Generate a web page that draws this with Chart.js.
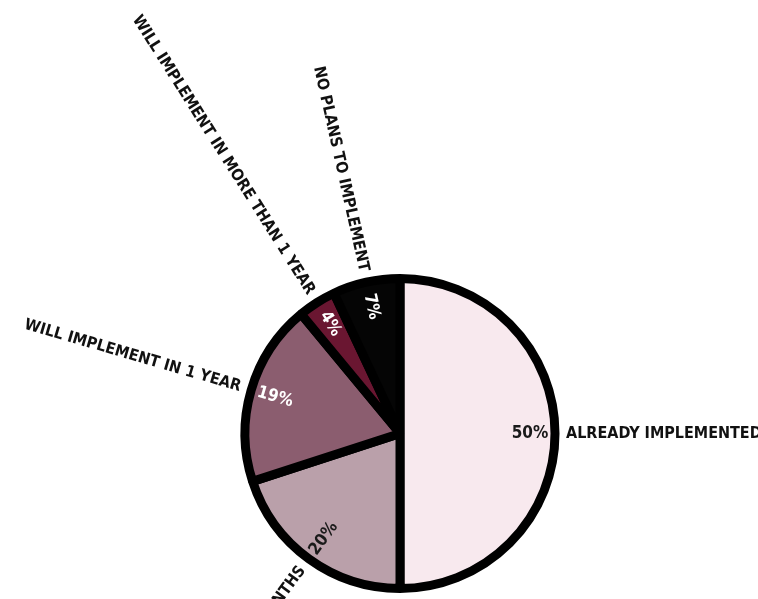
<!DOCTYPE html>
<html>
<head>
<meta charset="utf-8">
<script src="https://cdn.jsdelivr.net/npm/chart.js@4/dist/chart.umd.min.js"></script>
<style>
  html, body { margin: 0; padding: 0; background: #fff; }
  #wrap { width: 758px; height: 599px; }
</style>
</head>
<body>
<div id="wrap"><canvas id="pie" width="758" height="599"></canvas></div>
<script>
'use strict';

// what the survey answered, clockwise from the top
const categories = [
    'ALREADY IMPLEMENTED',
    'WILL IMPLEMENT IN 6 MONTHS',
    'WILL IMPLEMENT IN 1 YEAR',
    'WILL IMPLEMENT IN MORE THAN 1 YEAR',
    'NO PLANS TO IMPLEMENT'
];
const shares = [50, 20, 19, 4, 7];
const shareLabels = ['50%', '20%', '19%', '4%', '7%'];

const sliceColors = ['#f8e9ee', '#baa0aa', '#8b5d6f', '#6a1631', '#050505'];
const inkColors = ['#1a1a1a', '#1a1a1a', '#ffffff', '#ffffff', '#ffffff'];

// rotated labels: percentage inside near the rim, name outside along the radius
const radialLabels = {
    id: 'radialLabels',
    afterDraw(chart) {
        const ctx = chart.ctx;
        const meta = chart.getDatasetMeta(0);
        ctx.save();
        meta.data.forEach((arc, i) => {
            const p = arc.getProps(['x', 'y', 'startAngle', 'endAngle', 'outerRadius'], true);
            const mid = (p.startAngle + p.endAngle) / 2; // canvas angle, 0 = right
            const cos = Math.cos(mid), sin = Math.sin(mid);
            const leftSide = cos < -0.0001;
            const rot = leftSide ? mid + Math.PI : mid;

            // percentage
            let r = p.outerRadius - 25;
            ctx.save();
            ctx.translate(p.x + cos * r, p.y + sin * r);
            ctx.rotate(rot);
            ctx.font = 'bold 17px "DejaVu Sans Condensed", "DejaVu Sans", sans-serif';
            ctx.fillStyle = inkColors[i];
            ctx.textAlign = 'center';
            ctx.textBaseline = 'middle';
            ctx.fillText(shareLabels[i], 0, 0);
            ctx.restore();

            // category name
            r = p.outerRadius + 11;
            ctx.save();
            ctx.translate(p.x + cos * r, p.y + sin * r);
            ctx.rotate(rot);
            ctx.font = 'bold 16px "DejaVu Sans Condensed", "DejaVu Sans", sans-serif';
            ctx.fillStyle = '#111';
            ctx.textAlign = leftSide ? 'right' : 'left';
            ctx.textBaseline = 'middle';
            ctx.fillText(categories[i], 0, 0);
            ctx.restore();
        });
        ctx.restore();
    }
};

const whiteBack = {
    id: 'whiteBack',
    beforeDraw(chart) {
        const ctx = chart.ctx;
        ctx.save();
        ctx.fillStyle = '#ffffff';
        ctx.fillRect(0, 0, chart.width, chart.height);
        ctx.restore();
    }
};

new Chart(document.getElementById('pie'), {
    type: 'pie',
    data: {
        labels: categories,
        datasets: [{
            data: shares,
            backgroundColor: sliceColors,
            borderColor: '#000000',
            borderWidth: 9
        }]
    },
    options: {
        responsive: false,
        animation: false,
        radius: 155,
        layout: { padding: { left: 42, right: 0, top: 268, bottom: 0 } },
        plugins: {
            legend: { display: false },
            tooltip: { enabled: false }
        }
    },
    plugins: [whiteBack, radialLabels]
});
</script>
</body>
</html>
